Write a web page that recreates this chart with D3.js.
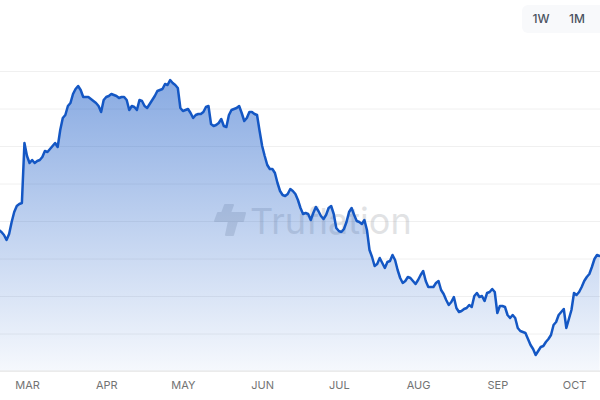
<!DOCTYPE html>
<html><head><meta charset="utf-8">
<script src="https://cdn.jsdelivr.net/npm/d3@7"></script>
<style>html,body{margin:0;padding:0;background:#fff;} svg{display:block;}</style>
</head><body>
<svg id="chart" width="600" height="400"></svg>
<script>
// ---- data ----
const startDate = "2024-02-19"; // first daily observation
const values = [
2.41,2.39,2.36,2.31,2.37,2.49,2.59,2.65,2.67,2.68,
3.28,3.15,3.08,3.11,3.08,3.10,3.11,3.14,3.20,3.19,
3.22,3.25,3.28,3.24,3.41,3.53,3.56,3.65,3.68,3.77,
3.82,3.85,3.81,3.74,3.74,3.74,3.72,3.70,3.68,3.65,
3.59,3.71,3.74,3.75,3.77,3.76,3.75,3.73,3.74,3.74,
3.71,3.61,3.65,3.64,3.61,3.71,3.70,3.65,3.63,3.67,
3.71,3.75,3.80,3.81,3.82,3.87,3.86,3.91,3.88,3.86,
3.83,3.63,3.60,3.61,3.62,3.58,3.53,3.56,3.57,3.57,
3.59,3.64,3.65,3.47,3.45,3.46,3.48,3.52,3.45,3.44,
3.56,3.61,3.62,3.63,3.65,3.58,3.50,3.53,3.59,3.59,
3.57,3.56,3.40,3.25,3.15,3.06,3.02,3.02,2.98,2.88,
2.80,2.76,2.75,2.77,2.82,2.80,2.77,2.71,2.63,2.57,
2.58,2.57,2.51,2.58,2.64,2.60,2.55,2.52,2.56,2.63,
2.65,2.57,2.43,2.40,2.39,2.42,2.49,2.59,2.63,2.56,
2.50,2.49,2.47,2.51,2.41,2.21,2.14,2.05,2.07,2.13,
2.08,2.03,2.09,2.10,2.16,2.11,2.01,1.93,1.88,1.90,
1.94,1.93,1.90,1.87,1.91,1.96,2.00,1.90,1.84,1.84,
1.84,1.88,1.90,1.81,1.77,1.71,1.66,1.69,1.74,1.63,
1.59,1.60,1.62,1.63,1.66,1.64,1.75,1.78,1.74,1.75,
1.70,1.78,1.79,1.82,1.79,1.58,1.65,1.65,1.64,1.56,
1.53,1.56,1.53,1.43,1.40,1.39,1.38,1.32,1.26,1.22,
1.16,1.20,1.24,1.25,1.29,1.32,1.36,1.46,1.49,1.56,
1.59,1.62,1.43,1.52,1.61,1.78,1.76,1.79,1.84,1.90,
1.94,1.97,2.04,2.12,2.16,2.15
];
const monthLabels = ["MAR","APR","MAY","JUN","JUL","AUG","SEP","OCT"];
const monthDates = ["2024-03-01","2024-04-01","2024-05-01","2024-06-01","2024-07-01","2024-08-01","2024-09-01","2024-10-01"];
const yTicks = [1.0,1.375,1.75,2.125,2.5,2.875,3.25,3.625,4.0];
const rangeButtons = ["1W","1M"];
const watermarkText = "Truflation";

// ---- build ----
const W = 600, H = 400;
const svg = d3.select("#chart");
const start = new Date(startDate + "T00:00:00Z");
const data = values.map((v, i) => ({ date: d3.utcDay.offset(start, i), value: v }));

const x = d3.scaleUtc()
  .domain([new Date("2024-03-01T00:00:00Z"), new Date("2024-10-01T00:00:00Z")])
  .range([27, 574]);
const y = d3.scaleLinear().domain([1, 4]).range([371, 71]);

const defs = svg.append("defs");
const grad = defs.append("linearGradient").attr("id", "areaGrad")
  .attr("gradientUnits", "userSpaceOnUse")
  .attr("x1", 0).attr("x2", 0).attr("y1", y(4)).attr("y2", y(1));
grad.append("stop").attr("offset", "0%").attr("stop-color", "#1558c6").attr("stop-opacity", 0.52);
grad.append("stop").attr("offset", "100%").attr("stop-color", "#1558c6").attr("stop-opacity", 0.04);
defs.append("clipPath").attr("id", "plotClip").append("rect")
  .attr("x", 0).attr("y", 0).attr("width", W).attr("height", H);

// gridlines
const grid = svg.append("g").attr("class", "grid")
  .call(d3.axisLeft(y).tickValues(yTicks).tickSize(-W).tickFormat(""));
grid.select(".domain").remove();
grid.selectAll(".tick line").attr("stroke", "#f0f0f0").attr("stroke-width", 1);

// watermark
const wm = svg.append("g").attr("class", "watermark").attr("fill", "#8a8f96").attr("opacity", 0.25);
wm.append("path").attr("stroke", "#8a8f96").attr("stroke-width", 2).attr("stroke-linejoin", "round").attr("d",
  "M225,205 L233,205 L230,213 L245,213 L243,221 L237,221 L233,235 L226,235 L229,221 L215,221 L218,213 L222,213 Z");
wm.append("text").attr("x", 250).attr("y", 234)
  .attr("font-family", "Inter, 'Open Sans', sans-serif").attr("font-size", 36)
  .text(watermarkText);

// area + line
const area = d3.area().x(d => x(d.date)).y0(y(1)).y1(d => y(d.value));
const line = d3.line().x(d => x(d.date)).y(d => y(d.value));
const plot = svg.append("g").attr("clip-path", "url(#plotClip)");
plot.append("path").datum(data).attr("d", area).attr("fill", "url(#areaGrad)");
plot.append("path").datum(data).attr("d", line)
  .attr("fill", "none").attr("stroke", "#1457c4").attr("stroke-width", 2.5)
  .attr("stroke-linejoin", "round").attr("stroke-linecap", "round");

// baseline
svg.append("line").attr("x1", 0).attr("x2", W).attr("y1", y(1)).attr("y2", y(1))
  .attr("stroke", "#e6e6e6").attr("stroke-width", 1.2);

// month axis
const xAxis = svg.append("g").attr("transform", `translate(0,${y(1)})`)
  .call(d3.axisBottom(x)
    .tickValues(monthDates.map(d => new Date(d + "T00:00:00Z")))
    .tickFormat((d, i) => monthLabels[i])
    .tickSize(0).tickPadding(10));
xAxis.select(".domain").remove();
xAxis.selectAll("text").attr("fill", "#737373").attr("font-size", 11)
  .attr("font-family", "Inter, Roboto, sans-serif");

// range buttons
const btn = svg.append("g");
btn.append("rect").attr("x", 522).attr("y", 5).attr("width", 90).attr("height", 28)
  .attr("rx", 6).attr("fill", "#f8f9fb");
const bx = d3.scalePoint().domain(rangeButtons).range([541, 577]);
btn.selectAll("text").data(rangeButtons).join("text")
  .attr("x", d => bx(d)).attr("y", 19).attr("dy", "0.35em")
  .attr("text-anchor", "middle").attr("font-size", 12).attr("font-weight", 500)
  .attr("font-family", "Inter, Roboto, sans-serif").attr("fill", "#4a5260")
  .text(d => d);
</script>
</body></html>
